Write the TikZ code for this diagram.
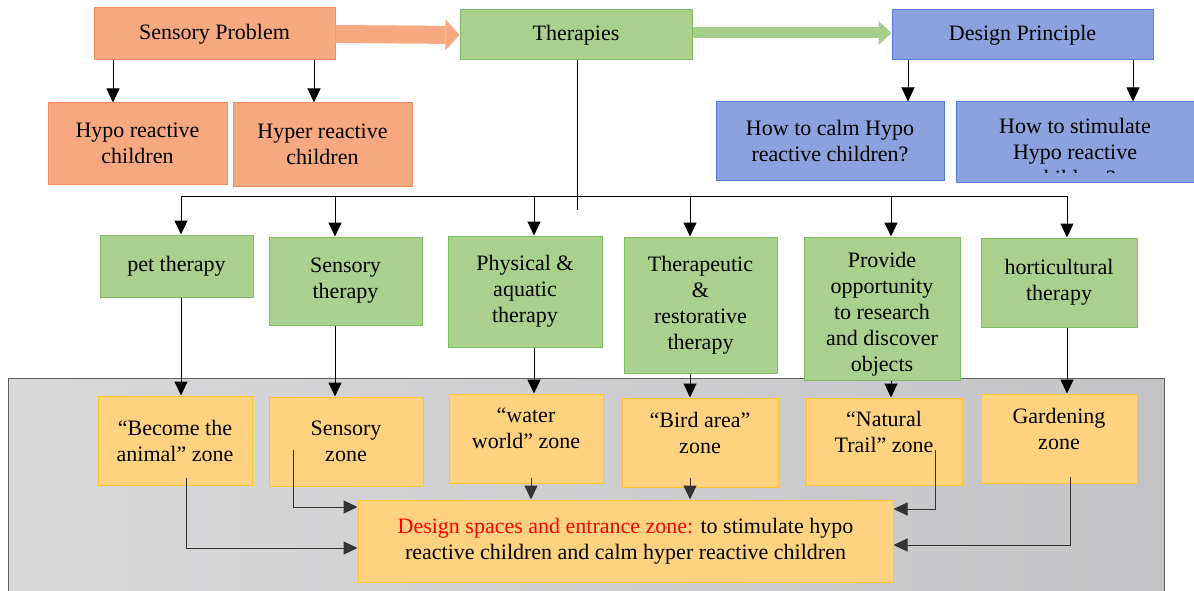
\documentclass[tikz,border=0pt]{standalone}
\usepackage{fontspec}
\setmainfont{Liberation Serif}
\usetikzlibrary{arrows.meta}
\definecolor{spfill}{RGB}{246,168,128}
\definecolor{spline}{RGB}{240,140,90}
\definecolor{thfill}{RGB}{170,208,142}
\definecolor{thline}{RGB}{125,188,100}
\definecolor{dpfill}{RGB}{140,162,222}
\definecolor{dpline}{RGB}{85,125,222}
\definecolor{znfill}{RGB}{255,210,128}
\definecolor{znline}{RGB}{255,196,40}
\definecolor{bgfill}{RGB}{196,196,198}
\definecolor{bgline}{RGB}{95,95,95}
\begin{document}
\begin{tikzpicture}[x=1pt, y=-1pt, >={Triangle[length=14pt,width=13pt]},
    every node/.style={font=\fontsize{22}{26}\selectfont, align=center, inner sep=2pt},
    obox/.style={draw=spline, fill=spfill, line width=1pt},
    gbox/.style={draw=thline, fill=thfill, line width=1pt},
    bbox/.style={draw=dpline, fill=dpfill, line width=1pt},
    zbox/.style={draw=znline, fill=znfill, line width=1pt},
    zup/.style={text depth=20pt},
    link/.style={->, line width=1pt, black},
    glink/.style={->, line width=1pt, black!80}]
\useasboundingbox (0,0) rectangle (1194,591);
% zone panel
\draw[bgline, line width=1pt, left color=bgfill!65!white, right color=bgfill] (8,378) rectangle (1164,600);

% top row
\node[obox, minimum width=241pt, minimum height=52pt] (sp) at (214.5,34) {Sensory Problem};
\node[gbox, minimum width=232pt, minimum height=50pt] (th) at (576,35) {Therapies};
\node[bbox, minimum width=261pt, minimum height=50pt] (dp) at (1022.5,35) {Design Principle};
\draw[spfill, line width=18pt, -{Triangle[length=14pt,width=31pt,line width=0pt]}] (sp.east) -- (th.west);
\draw[thfill!90!thline, line width=11pt, -{Triangle[length=13pt,width=24pt,line width=0pt]}] ([yshift=2pt]th.east) -- ([yshift=2pt]dp.west);

\node[obox, minimum width=179pt, minimum height=81pt] (hypo) at (137.5,143.5) {Hypo reactive\\children};
\node[obox, minimum width=179pt, minimum height=83pt] (hyper) at (322.5,144.5) {Hyper reactive\\children};
\node[bbox, minimum width=228pt, minimum height=78pt] (calm) at (830,141) {How to calm Hypo\\reactive children?};
\node[bbox, minimum width=238pt, minimum height=80pt] (stim) at (1075,142) {};
\begin{scope}
    \clip (stim.north west) rectangle ([yshift=10pt]stim.south east);
    \node at ([yshift=-10pt]stim.center) {How to stimulate\\Hypo reactive\\children?};
\end{scope}

\coordinate (a1) at (113,0);
\coordinate (a2) at (314,0);
\coordinate (a3) at (908,0);
\coordinate (a4) at (1133,0);
\draw[link] (a1 |- sp.south) -- (a1 |- hypo.north);
\draw[link] (a2 |- sp.south) -- (a2 |- hyper.north);
\draw[link] (a3 |- dp.south) -- (a3 |- calm.north);
\draw[link] (a4 |- dp.south) -- (a4 |- stim.north);

% therapies
\node[gbox, minimum width=153pt, minimum height=62pt] (pet) at (176.5,266) {pet therapy};
\node[gbox, minimum width=153pt, minimum height=88pt] (sth) at (345.5,281) {Sensory\\therapy};
\node[gbox, minimum width=154pt, minimum height=111pt] (phy) at (525,291.5) {Physical \&\\aquatic\\therapy};
\node[gbox, minimum width=153pt, minimum height=136pt] (tre) at (700.5,305) {Therapeutic\\\&\\restorative\\therapy};
\node[gbox, minimum width=156pt, minimum height=143pt] (prov) at (882,308.5) {\rule{0pt}{27pt}Provide\\opportunity\\to research\\and discover\\objects};
\node[gbox, minimum width=156pt, minimum height=89pt] (hort) at (1059,282.5) {horticultural\\therapy};

\coordinate (thend) at (577,210);
\coordinate (k1) at (181,196);
\coordinate (k2) at (335,196);
\coordinate (k3) at (534,196);
\coordinate (k4) at (690,196);
\coordinate (k5) at (891,196);
\coordinate (k6) at (1067,196);
\draw[line width=1pt] (th.south -| thend) -- (thend);
\draw[line width=1pt] (k1) -- (k6);
\foreach \k/\t in {k1/pet, k2/sth, k3/phy, k4/tre, k5/prov, k6/hort}
{
    \draw[link] (\k) -- (\k |- \t.north);
}

% zones
\node[zbox, minimum width=154pt, minimum height=89pt] (z1) at (175,440.5) {“Become the\\animal” zone};
\node[zbox, minimum width=154pt, minimum height=89pt] (z2) at (346,441.5) {Sensory\\zone};
\node[zbox, zup, minimum width=154pt, minimum height=89pt] (z3) at (526,438.5) {“water\\world” zone};
\node[zbox, zup, minimum width=156pt, minimum height=89pt] (z4) at (700,442.5) {“Bird area”\\zone};
\node[zbox, zup, minimum width=156pt, minimum height=87pt] (z5) at (884,441.5) {“Natural\\Trail” zone};
\node[zbox, zup, minimum width=156pt, minimum height=89pt] (z6) at (1059,438.5) {Gardening\\zone};
\foreach \k/\t/\z in {k1/pet/z1, k2/sth/z2, k3/phy/z3, k4/tre/z4, k5/prov/z5, k6/hort/z6}
{
    \draw[link] (\k |- \t.south) -- (\k |- \z.north);
}

\node[zbox, minimum width=535pt, minimum height=82pt] (ds) at (625.5,541) {\textcolor{red}{Design spaces and entrance zone:} to stimulate hypo\\reactive children and calm hyper reactive children};

\coordinate (m1) at (186,478);
\coordinate (m2) at (293,450);
\coordinate (m3) at (531,478);
\coordinate (m4) at (690,478);
\coordinate (m5) at (935,450);
\coordinate (m6) at (1070,477);
\draw[glink] (m1) |- ([yshift=-7pt]ds.west);
\draw[glink] (m2) |- ([yshift=34pt]ds.west);
\draw[glink] (m3) -- (m3 |- ds.north);
\draw[glink] (m4) -- (m4 |- ds.north);
\draw[glink] (m5) |- ([yshift=32pt]ds.east);
\draw[glink] (m6) |- ([yshift=-4pt]ds.east);

\end{tikzpicture}
\end{document}
